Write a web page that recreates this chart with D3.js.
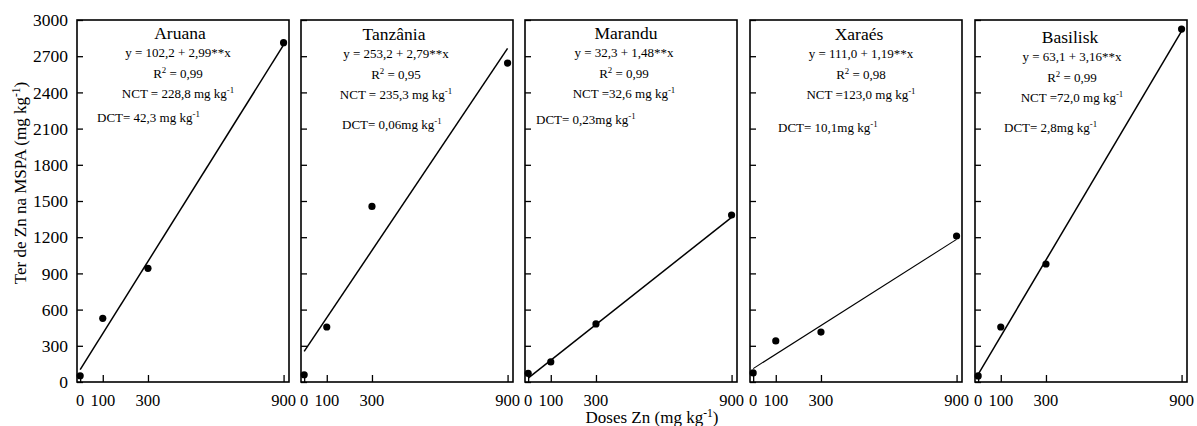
<!DOCTYPE html>
<html>
<head>
<meta charset="utf-8">
<script src="https://cdn.jsdelivr.net/npm/d3@7"></script>
<style>
  html, body { margin: 0; padding: 0; background: #fff; }
  svg { display: block; font-family: "Liberation Serif", "Times New Roman", serif; }
</style>
</head>
<body>
<svg id="chart" width="1197" height="426"></svg>
<script>
// ---- data ----
const cultivars = ["Aruana", "Tanzânia", "Marandu", "Xaraés", "Basilisk"];
const doses = [0, 100, 300, 900];
const aruana   = [52, 528, 942, 2812];
const tanzania = [60, 456, 1455, 2643];
const marandu  = [72, 166, 481, 1384];
const xaraes   = [75, 340, 414, 1210];
const basilisk = [50, 456, 978, 2925];
const seriesValues = [aruana, tanzania, marandu, xaraes, basilisk];
const intercepts = [102.2, 253.2, 32.3, 111.0, 63.1];
const slopes = [2.99, 2.79, 1.48, 1.19, 3.16];
const equations = ["y = 102,2 + 2,99**x", "y = 253,2 + 2,79**x", "y = 32,3 + 1,48**x", "y = 111,0 + 1,19**x", "y = 63,1 + 3,16**x"];
const r2Values = ["= 0,99", "= 0,95", "= 0,99", "= 0,98", "= 0,99"];
const nctLabels = ["NCT = 228,8 mg kg", "NCT = 235,3 mg kg", "NCT =32,6 mg kg", "NCT =123,0 mg kg", "NCT =72,0 mg kg"];
const dctLabels = ["DCT= 42,3 mg kg", "DCT= 0,06mg kg", "DCT= 0,23mg kg", "DCT= 10,1mg kg", "DCT= 2,8mg kg"];
const yTicks = [0, 300, 600, 900, 1200, 1500, 1800, 2100, 2400, 2700, 3000];
const xTicks = [0, 100, 300, 900];
const yAxisTitle = "Ter de Zn na MSPA (mg kg";
const xAxisTitle = "Doses Zn (mg kg";

// ---- layout ----
const panelLefts = [77, 301, 525, 750, 975];
const panelW = 212;
const plotTop = 20, plotBottom = 382;
const titleDx = [-3, -13, -5, 3, -11];
const eqDx = [-5, -11, -7, 5, -9];
const vShift = [0, 1, 0, 1, 4];
const dctDx = [20, 41, 11, 28, 29];
const dctY = [122, 129, 124, 132, 132];
const lineW = [1.5, 1.5, 1.5, 1.1, 1.5];

const svg = d3.select("#chart");
const y = d3.scaleLinear().domain([0, 3000]).range([plotBottom, plotTop]);

function supText(sel, main, sup) {
  sel.append("tspan").text(main);
  sel.append("tspan").attr("font-size", "0.68em").attr("dy", "-0.55em").text(sup);
}

cultivars.forEach((name, i) => {
  const L = panelLefts[i];
  const x = d3.scaleLinear().domain([-14, 924]).range([L, L + panelW]);
  const g = svg.append("g");
  const cx = L + panelW / 2;

  // y ticks (inward)
  const yAx = g.append("g").attr("transform", `translate(${L},0)`)
    .call(d3.axisRight(y).tickValues(yTicks).tickSize(6).tickFormat(""));
  yAx.select(".domain").remove();
  yAx.selectAll(".tick line").attr("stroke", "#000").attr("stroke-width", 1.3);
  yAx.selectAll(".tick text").remove();

  if (i === 0) {
    const lab = g.append("g");
    yTicks.forEach(t => {
      lab.append("text").attr("x", L - 9).attr("y", y(t)).attr("dy", "0.35em")
        .attr("text-anchor", "end").attr("font-size", 17.5).text(t);
    });
  }

  // x ticks (inward)
  const xAx = g.append("g").attr("transform", `translate(0,${plotBottom})`)
    .call(d3.axisTop(x).tickValues(xTicks).tickSize(7).tickFormat(""));
  xAx.select(".domain").remove();
  xAx.selectAll(".tick line").attr("stroke", "#000").attr("stroke-width", 1.3);
  xAx.selectAll(".tick text").remove();
  xTicks.forEach(t => {
    g.append("text").attr("x", x(t)).attr("y", 406).attr("text-anchor", "middle")
      .attr("font-size", 16.5).text(t);
  });

  // frame
  g.append("rect").attr("x", L).attr("y", plotTop).attr("width", panelW).attr("height", plotBottom - plotTop)
    .attr("fill", "none").attr("stroke", "#000").attr("stroke-width", 1.6);

  // regression line
  const fit = [0, 900].map(d => [d, intercepts[i] + slopes[i] * d]);
  g.append("path").datum(fit)
    .attr("d", d3.line().x(d => x(d[0])).y(d => y(d[1])))
    .attr("fill", "none").attr("stroke", "#000").attr("stroke-width", lineW[i]);

  // points
  g.selectAll("circle").data(seriesValues[i]).join("circle")
    .attr("cx", (d, j) => x(doses[j])).attr("cy", d => y(d)).attr("r", 3.6).attr("fill", "#000");

  // annotations
  const vs = vShift[i];
  g.append("text").attr("x", cx + titleDx[i]).attr("y", 39 + vs).attr("text-anchor", "middle")
    .attr("font-size", 17.5).text(name);
  g.append("text").attr("x", cx + eqDx[i]).attr("y", 57 + vs).attr("text-anchor", "middle")
    .attr("font-size", 13).text(equations[i]);
  const r2 = g.append("text").attr("x", cx + eqDx[i]).attr("y", 78 + vs).attr("text-anchor", "middle")
    .attr("font-size", 13);
  r2.append("tspan").text("R");
  r2.append("tspan").attr("font-size", "0.68em").attr("dy", "-0.6em").text("2");
  r2.append("tspan").attr("dy", "0.41em").text(" " + r2Values[i]);
  const nct = g.append("text").attr("x", cx + eqDx[i]).attr("y", 98 + vs).attr("text-anchor", "middle")
    .attr("font-size", 13);
  supText(nct, nctLabels[i], "-1");
  const dct = g.append("text").attr("x", L + dctDx[i]).attr("y", dctY[i]).attr("font-size", 13);
  supText(dct, dctLabels[i], "-1");
});

// axis titles
const yt = svg.append("text").attr("transform", "translate(26,183) rotate(-90)")
  .attr("text-anchor", "middle").attr("font-size", 17);
supText(yt, yAxisTitle, "-1");
yt.append("tspan").attr("dy", "0.37em").text(")");

const xt = svg.append("text").attr("x", 652).attr("y", 423).attr("text-anchor", "middle").attr("font-size", 17);
supText(xt, xAxisTitle, "-1");
xt.append("tspan").attr("dy", "0.37em").text(")");
</script>
</body>
</html>
